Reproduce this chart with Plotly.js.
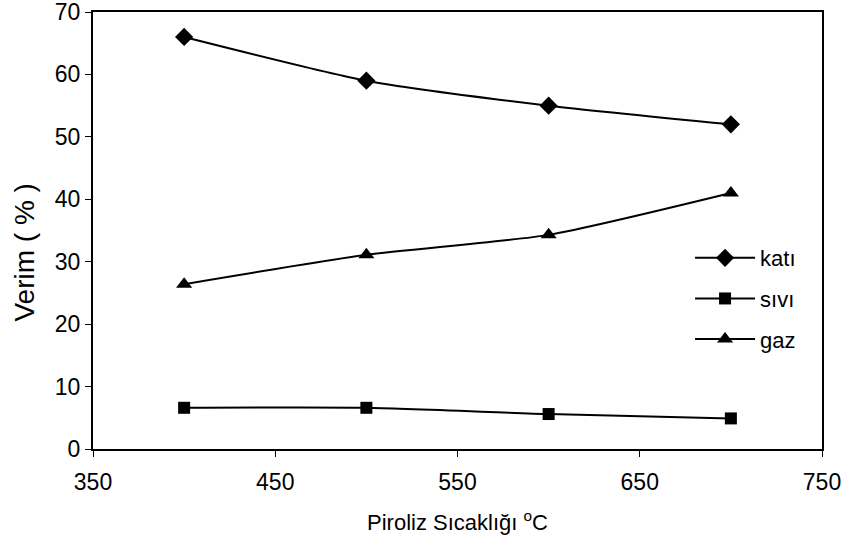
<!DOCTYPE html>
<html>
<head>
<meta charset="utf-8">
<script src="https://cdn.plot.ly/plotly-3.0.1.min.js"></script>
<style>html,body{margin:0;padding:0;background:#fff;}#chart{width:847px;height:548px;}</style>
</head>
<body>
<div id="chart"></div>
<script>
var temps = [400, 500, 600, 700];
var kati = [66, 59, 55, 52];
var sivi = [6.6, 6.6, 5.6, 4.9];
var gaz = [26.4, 31.1, 34.3, 41.0];
var names = ['katı', 'sıvı', 'gaz'];
var xTicks = [350, 450, 550, 650, 750];
var yTicks = [0, 10, 20, 30, 40, 50, 60, 70];

var font = 'Liberation Sans, Arial, sans-serif';
function tr(y, name, sym, size, grp) {
  return {
    x: temps, y: y, name: name, type: 'scatter', mode: 'lines+markers',
    legendgroup: grp,
    line: {color: '#000', width: 2, shape: 'spline', smoothing: 0.6},
    marker: {symbol: sym, size: size, color: '#000'}
  };
}
var data = [
  tr(kati, names[0], 'diamond', 14, 'a'),
  tr(sivi, names[1], 'square', 12, 'b'),
  tr(gaz, names[2], 'triangle-up', 14, 'c')
];
var layout = {
  width: 847, height: 548,
  margin: {l: 92.5, r: 25, t: 12, b: 99},
  paper_bgcolor: '#fff', plot_bgcolor: '#fff',
  font: {family: font, size: 22, color: '#000'},
  showlegend: true,
  legend: {x: 0.819, y: 0.485, xanchor: 'left', yanchor: 'top', bgcolor: 'rgba(0,0,0,0)',
           font: {size: 22}, traceorder: 'grouped', tracegroupgap: 9, itemwidth: 60},
  xaxis: {
    range: [350, 750], tickvals: xTicks, ticktext: xTicks.map(String),
    showgrid: false, zeroline: false, showline: true, linecolor: '#000', linewidth: 2,
    mirror: true, ticks: 'outside', ticklen: 6, tickcolor: '#000', tickwidth: 1,
    tickfont: {size: 23}, ticklabelstandoff: 5, ticklabeloverflow: 'allow',
    title: {text: 'Piroliz Sıcaklığı <sup>o</sup>C', font: {size: 22}, standoff: 21},
    automargin: false
  },
  yaxis: {
    range: [0, 70], tickvals: yTicks, ticktext: yTicks.map(String),
    showgrid: false, zeroline: false, showline: true, linecolor: '#000', linewidth: 2,
    mirror: true, ticks: 'outside', ticklen: 6, tickcolor: '#000', tickwidth: 1,
    tickfont: {size: 23}, ticklabeloverflow: 'allow',
    automargin: false
  },
  annotations: [{
    text: 'Verim ( % )', xref: 'paper', yref: 'paper', x: -0.0953, y: 0.4485,
    xanchor: 'center', yanchor: 'middle', textangle: -90, showarrow: false,
    font: {size: 28}
  }]
};
Plotly.newPlot('chart', data, layout, {displayModeBar: false, staticPlot: true});
</script>
</body>
</html>
